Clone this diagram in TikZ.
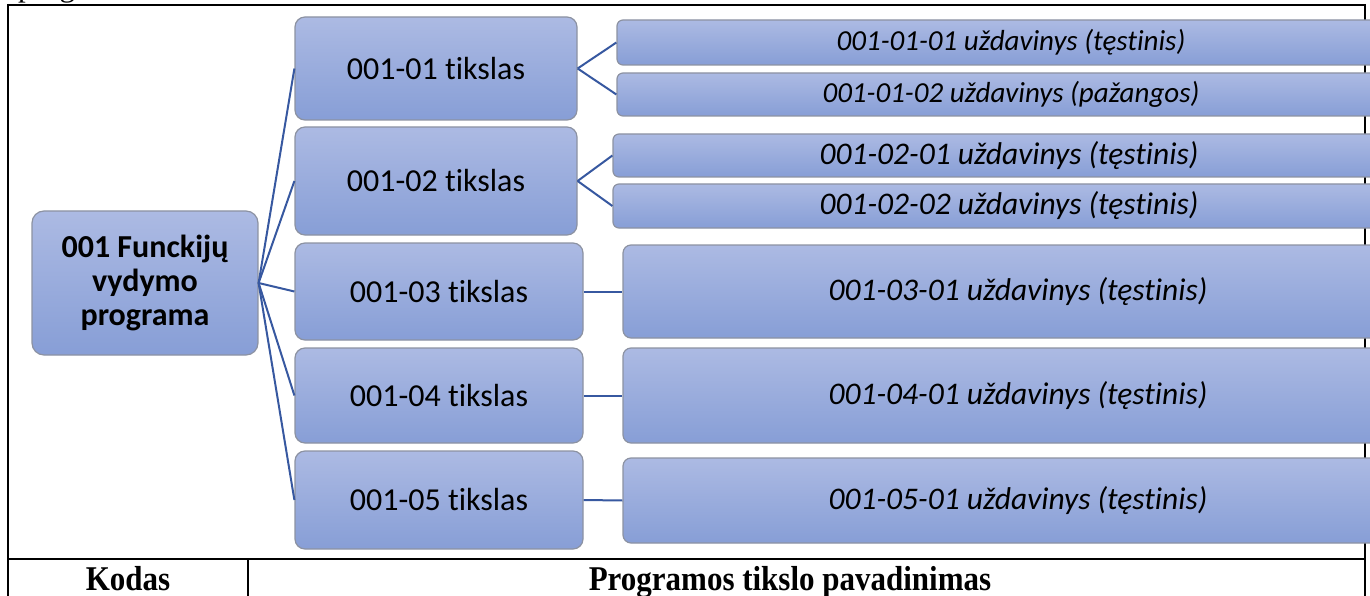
\documentclass[tikz,border=0pt]{standalone}
\usepackage{fontspec}
\setmainfont[Ligatures={NoCommon}]{Carlito}
\newfontfamily\timesf{Liberation Serif}
\definecolor{boxtop}{RGB}{172,186,227}
\definecolor{boxbot}{RGB}{135,158,214}
\definecolor{boxline}{RGB}{140,146,162}
\definecolor{conn}{RGB}{55,88,160}
\begin{document}
\begin{tikzpicture}[x=1pt,y=-1pt,
  box/.style={draw=boxline, line width=1.2pt, top color=boxtop, bottom color=boxbot,
    rounded corners=10pt, inner sep=0pt, align=center},
  goal/.style={box, font=\fontsize{32}{38}\selectfont},
  task/.style={box, rounded corners=6pt},
  link/.style={draw=conn, line width=2pt},
  frame/.style={line width=2.5pt, black},
  head/.style={anchor=base, inner sep=0pt, font=\timesf\bfseries\fontsize{31}{36}\selectfont}]
\useasboundingbox (0,0) rectangle (1370,596);
% frame
\draw[frame] (7,5) -- (1366,5);
\draw[frame] (8,4) -- (8,600);
\draw[frame] (1365,4) -- (1365,600);
\draw[frame] (7,559) -- (1366,559);
\draw[frame] (248,559) -- (248,600);
\node[anchor=base west, inner sep=0pt, font=\timesf\fontsize{31}{36}\selectfont] (prev) at (18,-3) {programos};
% root
\node[box, rounded corners=12pt, minimum width=226pt, minimum height=144pt,
  font=\fontsize{32}{34}\selectfont\bfseries] (root) at (145,283) {001 Funckijų\\vydymo\\programa};
% goals
\node[goal, minimum width=282pt, minimum height=103pt] (t1) at (436,68.5) {001-01 tikslas};
\node[goal, minimum width=282pt, minimum height=108pt] (t2) at (436,181) {001-02 tikslas};
\node[goal, minimum width=288pt, minimum height=97pt] (t3) at (439,291.5) {001-03 tikslas};
\node[goal, minimum width=288pt, minimum height=95pt] (t4) at (439,395.5) {001-04 tikslas};
\node[goal, minimum width=288pt, minimum height=98pt] (t5) at (439,500) {001-05 tikslas};
% tasks
\node[task, minimum width=788pt, minimum height=45pt, font=\fontsize{29}{34}\selectfont\itshape] (u11) at (1011,42.5) {001-01-01 uždavinys (tęstinis)};
\node[task, minimum width=788pt, minimum height=43pt, font=\fontsize{29}{34}\selectfont\itshape] (u12) at (1011,94.5) {001-01-02 uždavinys (pažangos)};
\node[task, minimum width=792pt, minimum height=43pt, font=\fontsize{31.5}{36}\selectfont\itshape] (u21) at (1009,155.5) {001-02-01 uždavinys (tęstinis)};
\node[task, minimum width=792pt, minimum height=44pt, font=\fontsize{31.5}{36}\selectfont\itshape] (u22) at (1009,206) {001-02-02 uždavinys (tęstinis)};
\node[task, rounded corners=8pt, minimum width=790pt, minimum height=93pt, font=\fontsize{31.5}{36}\selectfont\itshape] (u3) at (1018,291.5) {001-03-01 uždavinys (tęstinis)};
\node[task, rounded corners=8pt, minimum width=790pt, minimum height=95pt, font=\fontsize{31.5}{36}\selectfont\itshape] (u4) at (1018,395.5) {001-04-01 uždavinys (tęstinis)};
\node[task, rounded corners=8pt, minimum width=790pt, minimum height=85pt, font=\fontsize{31.5}{36}\selectfont\itshape] (u5) at (1018,500.5) {001-05-01 uždavinys (tęstinis)};
% connectors
\foreach \t in {t1,t2,t3,t4,t5} {\draw[link] (root.east) -- (\t.west);}
\draw[link] (t1.east) -- (u11.west);
\draw[link] (t1.east) -- (u12.west);
\draw[link] (t2.east) -- (u21.west);
\draw[link] (t2.east) -- (u22.west);
\draw[link] (t3.east) -- (u3.west);
\draw[link] (t4.east) -- (u4.west);
\draw[link] (t5.east) -- (u5.west);
% header
\node[head] (kod) at (128,590) {\scalebox{1}[1.12]{Kodas}};
\node[head] (pav) at (790,590) {\scalebox{1}[1.12]{Programos tikslo pavadinimas}};
\end{tikzpicture}
\end{document}
